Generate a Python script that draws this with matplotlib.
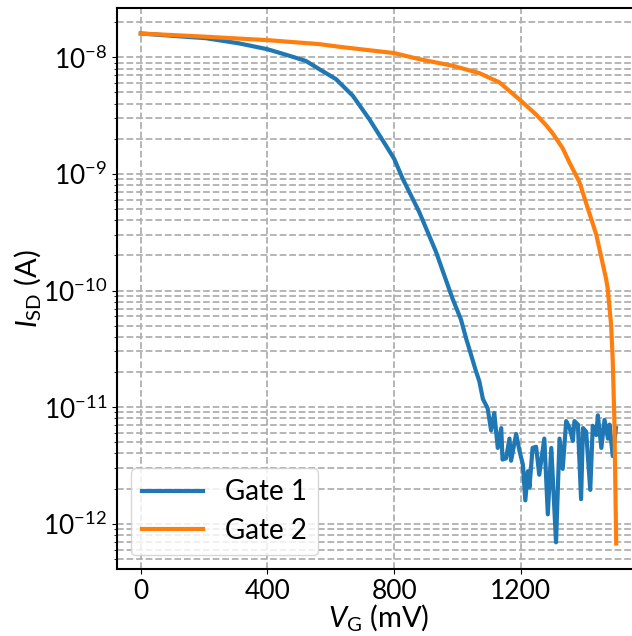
import matplotlib
matplotlib.use('Agg')
import matplotlib.pyplot as plt
import numpy as np

plt.rcParams['font.family'] = ['Lato', 'DejaVu Sans']
plt.rcParams['mathtext.fontset'] = 'custom'
plt.rcParams['mathtext.rm'] = 'Lato'
plt.rcParams['mathtext.it'] = 'Lato:italic'
plt.rcParams['mathtext.bf'] = 'Lato:bold'

# Gate 1: gate voltage (mV) and log10 of source-drain current (A)
gate1_v = [0, 100, 205, 311, 400, 469, 521, 563, 616, 669, 721, 774, 800, 827,
           879, 932, 984, 1011, 1027, 1037, 1058, 1069, 1080, 1095, 1106, 1116,
           1127, 1138, 1142, 1153, 1164, 1169, 1185, 1196, 1206, 1214, 1222,
           1227, 1237, 1248, 1258, 1274, 1285, 1296, 1311, 1322, 1332, 1343,
           1354, 1364, 1369, 1380, 1390, 1396, 1406, 1419, 1427, 1438, 1443,
           1454, 1464, 1475, 1480, 1490, 1500]
gate1_log = [-7.795, -7.815, -7.835, -7.88, -7.93, -7.986, -8.03, -8.10, -8.186,
             -8.328, -8.528, -8.756, -8.87, -9.041, -9.326, -9.668, -10.068,
             -10.25, -10.41, -10.50, -10.69, -10.78, -10.93, -11.01, -11.20,
             -11.05, -11.35, -11.18, -11.45, -11.44, -11.27, -11.46, -11.23,
             -11.38, -11.49, -11.80, -11.55, -11.69, -11.35, -11.34, -11.58,
             -11.27, -11.92, -11.35, -12.16, -11.27, -11.53, -11.12, -11.18,
             -11.29, -11.12, -11.15, -11.79, -11.18, -11.21, -11.71, -11.16,
             -11.24, -11.07, -11.35, -11.11, -11.27, -11.15, -11.42, -11.18]

# Gate 2
gate2_v = [0, 200, 400, 563, 627, 800, 879, 985, 1069, 1132, 1195, 1248, 1279,
           1300, 1332, 1353, 1385, 1406, 1438, 1469, 1474, 1485, 1490, 1495,
           1501]
gate2_log = [-7.795, -7.822, -7.852, -7.886, -7.909, -7.963, -8.015, -8.072,
             -8.135, -8.214, -8.36, -8.49, -8.58, -8.65, -8.78, -8.90, -9.07,
             -9.25, -9.52, -9.90, -9.98, -10.30, -10.60, -11.10, -12.17]

fig = plt.figure(figsize=(6.32, 6.36), dpi=100)
ax = fig.add_axes([117 / 632, 67 / 636, 523 / 632, 561 / 636])

ax.plot(gate1_v, 10.0 ** np.array(gate1_log), color='#1f77b4', lw=3, label='Gate 1')
ax.plot(gate2_v, 10.0 ** np.array(gate2_log), color='#ff7f0e', lw=3, label='Gate 2')

ax.set_yscale('log')
ax.set_xticks([0, 400, 800, 1200])
ax.grid(which='both', linestyle='--', color='#b0b0b0', lw=1.3)
ax.set_axisbelow(True)

ax.tick_params(axis='both', which='major', labelsize=19)
for s in ax.spines.values():
    s.set_linewidth(1.5)

ax.set_xlabel(r'$V_\mathrm{G}$ (mV)', fontsize=21, labelpad=-1)
ax.set_ylabel(r'$I_\mathrm{SD}$ (A)', fontsize=21, labelpad=0)

ax.legend(loc='lower left', fontsize=20, handlelength=2.2, labelspacing=0.45,
          borderaxespad=0.5)

plt.savefig('out.png', dpi=100)
